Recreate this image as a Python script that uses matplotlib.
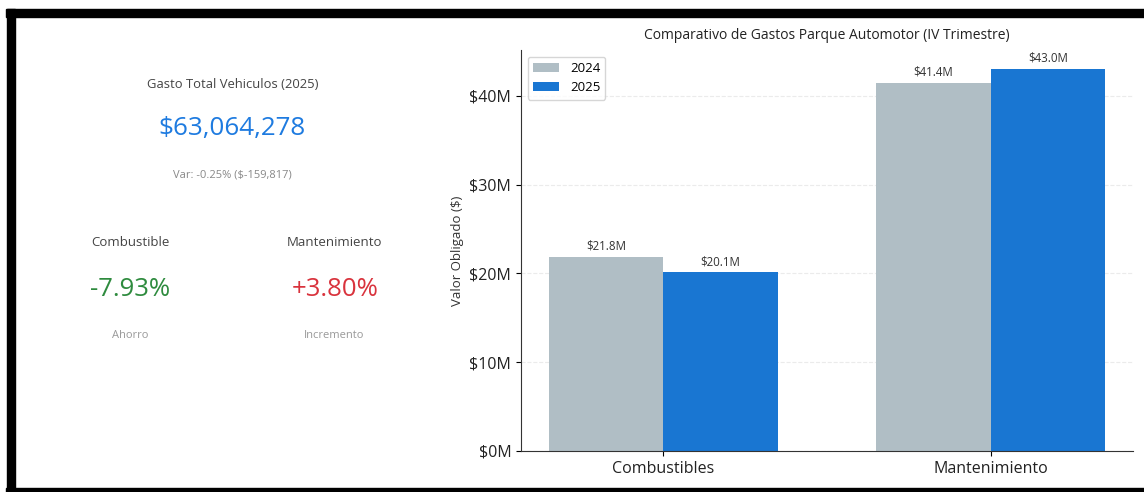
import matplotlib.pyplot as plt
import numpy as np
from matplotlib.patches import Rectangle

plt.rcParams['font.family'] = ['Open Sans', 'DejaVu Sans']

# datos
categorias = ["Combustibles", "Mantenimiento"]
anios = ["2024", "2025"]
gasto_2024 = [21.8e6, 41.4e6]
gasto_2025 = [20.1e6, 43.0e6]

total_2025 = 63064278
var_pct = -0.25
var_abs = -159817
var_combustible = -7.93
var_mantenimiento = 3.80

fig = plt.figure(figsize=(11.44, 4.92), dpi=100)
W, H = 1144, 492

# marco negro
fig.patches.append(Rectangle((6 / W, 1 - 17 / H), 1 - 6 / W, 8 / H, transform=fig.transFigure,
                             color="black", zorder=10))
fig.patches.append(Rectangle((7 / W, 0), 8 / W, 1 - 9 / H, transform=fig.transFigure,
                             color="black", zorder=10))
fig.patches.append(Rectangle((6 / W, 0), 1 - 6 / W, 4 / H, transform=fig.transFigure,
                             color="black", zorder=10))

def fx(x):
    return x / W

def fy(y):
    return 1 - y / H

# panel de indicadores
fig.text(fx(233), fy(84), "Gasto Total Vehiculos (2025)", ha="center", va="center",
         fontsize=9.4, color="#444444")
fig.text(fx(232), fy(129), f"${total_2025:,.0f}", ha="center", va="center",
         fontsize=18.7, color="#1e7be0")
fig.text(fx(232), fy(175), f"Var: {var_pct:.2f}% ($-{abs(var_abs):,.0f})", ha="center",
         va="center", fontsize=8, color="#888888")

fig.text(fx(130), fy(243), "Combustible", ha="center", va="center", fontsize=9.5, color="#444444")
fig.text(fx(334), fy(243), "Mantenimiento", ha="center", va="center", fontsize=9.5, color="#444444")
fig.text(fx(130), fy(289), f"{var_combustible:.2f}%", ha="center", va="center",
         fontsize=18.5, color="#2e8b3e")
fig.text(fx(335), fy(289), f"+{var_mantenimiento:.2f}%", ha="center", va="center",
         fontsize=18.5, color="#d9333d")
fig.text(fx(130), fy(336), "Ahorro", ha="center", va="center", fontsize=8, color="#999999")
fig.text(fx(334), fy(336), "Incremento", ha="center", va="center", fontsize=8, color="#999999")

# grafico de barras
ax = fig.add_axes([fx(521), fy(451), fx(1133 - 521), (451 - 50) / H])
x = np.arange(len(categorias))
w = 0.35
b1 = ax.bar(x - w / 2, gasto_2024, w, color="#b0bec5", label=anios[0])
b2 = ax.bar(x + w / 2, gasto_2025, w, color="#1976d2", label=anios[1])

for bars in (b1, b2):
    for b in bars:
        ax.text(b.get_x() + b.get_width() / 2, b.get_height() + 0.5e6,
                f"${b.get_height() / 1e6:.1f}M", ha="center", va="bottom", fontsize=8.3, color="#333333")

ax.set_ylim(0, max(gasto_2025 + gasto_2024) * 1.05)
ax.set_yticks([0, 10e6, 20e6, 30e6, 40e6])
ax.set_yticklabels([f"${v / 1e6:.0f}M" for v in ax.get_yticks()], fontsize=11.5, color="#222222")
ax.set_xticks(x)
ax.set_xticklabels(categorias, fontsize=11.5, color="#222222")
ax.set_ylabel("Valor Obligado ($)", fontsize=9.5, color="#333333")
ax.set_title("Comparativo de Gastos Parque Automotor (IV Trimestre)", fontsize=10, pad=8,
             color="#222222")
ax.yaxis.grid(True, linestyle="--", alpha=0.25)
ax.set_axisbelow(True)
ax.spines["top"].set_visible(False)
ax.spines["right"].set_visible(False)
ax.spines["left"].set_color("#333333")
ax.spines["bottom"].set_color("#333333")
ax.legend(loc="upper left", fontsize=9.5)

fig.savefig("out.png", dpi=100)
